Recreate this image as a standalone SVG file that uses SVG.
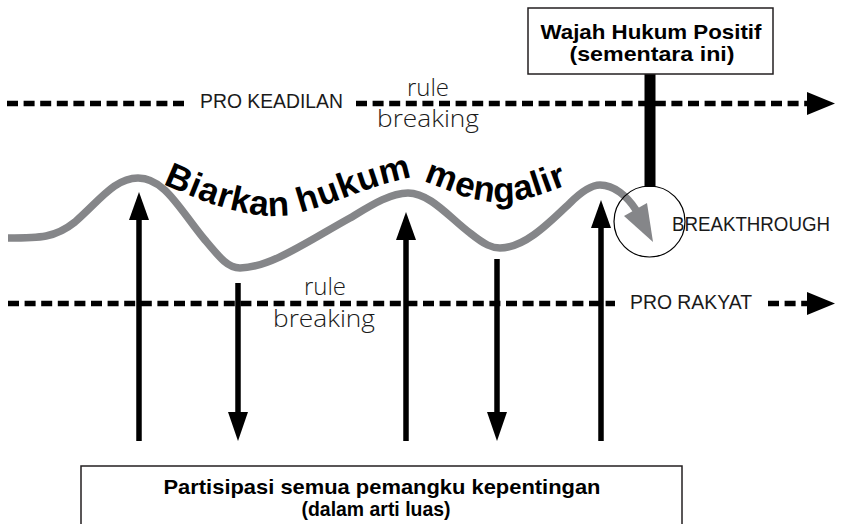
<svg xmlns="http://www.w3.org/2000/svg" width="843" height="524" viewBox="0 0 843 524">
  <defs>
    <style>
      .dash { fill: none; stroke: #000; stroke-width: 5.5; stroke-dasharray: 11 5.6; }
      .arrow { fill: none; stroke: #000; stroke-width: 5.5; }
      .head { fill: #000; }
      .box { fill: #fff; stroke: #231f20; stroke-width: 1.5; }
      .lbl { font-family: "Liberation Sans", Arial, sans-serif; font-size: 21px; fill: #1a1a1a; }
      .light { font-family: "Open Sans", "Liberation Sans", sans-serif; font-weight: 300; font-size: 24px; fill: #1a1a1a; text-anchor: middle; }
      .bold { font-family: "Liberation Sans", Arial, sans-serif; font-weight: bold; font-size: 21px; fill: #000; text-anchor: middle; }
      .title { font-family: "Liberation Sans", Arial, sans-serif; font-weight: bold; font-size: 35px; fill: #000; letter-spacing: 0.6px; }
    </style>
    <path id="titlePath" d="M 163,184 C 195,198 235,216 275,216 C 310,216 350,192 400,180 C 420,177 440,188 460,195 C 480,202 500,204 520,200 C 540,196 555,189 575,182"/>
  </defs>

  <!-- dashed axis lines -->
  <g id="axis-lines">
    <line class="dash" x1="7" y1="103.5" x2="186" y2="103.5"/>
    <line class="dash" x1="356" y1="103.5" x2="807" y2="103.5"/>
    <polygon class="head" points="807,92 835,103.5 807,115"/>
    <line class="dash" x1="8" y1="303.5" x2="615" y2="303.5"/>
    <line class="dash" x1="768" y1="303.5" x2="807" y2="303.5"/>
    <polygon class="head" points="807,292 835,303.5 807,315"/>
  </g>

  <g id="label-pro-keadilan">
    <text class="lbl" x="200" y="108" textLength="143" lengthAdjust="spacingAndGlyphs">PRO KEADILAN</text>
  </g>
  <g id="label-pro-rakyat">
    <text class="lbl" x="630" y="309" textLength="122" lengthAdjust="spacingAndGlyphs">PRO RAKYAT</text>
  </g>

  <g id="rule-breaking-top">
    <text class="light" x="428" y="96">rule</text>
    <text class="light" x="428" y="127" textLength="102" lengthAdjust="spacingAndGlyphs">breaking</text>
  </g>
  <g id="rule-breaking-bottom">
    <text class="light" x="325" y="295">rule</text>
    <text class="light" x="324" y="327" textLength="102" lengthAdjust="spacingAndGlyphs">breaking</text>
  </g>

  <!-- connectors: participation arrows -->
  <g id="connectors">
    <line class="arrow" x1="139" y1="441" x2="139" y2="218"/>
    <polygon class="head" points="139,192 149,220 129,220"/>
    <line class="arrow" x1="406" y1="441" x2="406" y2="238"/>
    <polygon class="head" points="406,212 416,240 396,240"/>
    <line class="arrow" x1="601" y1="441" x2="601" y2="226"/>
    <polygon class="head" points="601,200 611,228 591,228"/>
    <line class="arrow" x1="238" y1="283" x2="238" y2="414"/>
    <polygon class="head" points="238,441 248,412 228,412"/>
    <line class="arrow" x1="497" y1="259" x2="497" y2="414"/>
    <polygon class="head" points="497,441 507,412 487,412"/>
    <line x1="650" y1="74" x2="650" y2="187" stroke="#000" stroke-width="11"/>
  </g>

  <!-- flowing law wave -->
  <g id="wave">
    <path d="M 8,238 C 40,238 55,238 75,222 C 100,200 115,178 138,178 C 165,178 180,210 205,240 C 220,258 228,268 240,268 C 270,268 310,240 350,218 C 370,206 390,193 408,193 C 430,193 450,218 470,233 C 485,245 492,248 500,248 C 525,248 550,222 570,203 C 580,193 590,185 600,185 C 614,185 627,196 636,210" fill="none" stroke="#858689" stroke-width="7.5" stroke-linecap="butt"/>
    <polygon points="624,216 647,203 653,242" fill="#858689"/>
  </g>

  <g id="wave-title">
    <text class="title"><textPath href="#titlePath">Biarkan hukum mengalir</textPath></text>
  </g>

  <g id="breakthrough">
    <circle cx="649.5" cy="221.5" r="35.5" fill="none" stroke="#000" stroke-width="1.2"/>
    <text class="lbl" x="672" y="231" font-size="19" textLength="158" lengthAdjust="spacingAndGlyphs">BREAKTHROUGH</text>
  </g>

  <g id="box-wajah">
    <rect class="box" x="528" y="8" width="245" height="66"/>
    <text class="bold" x="651" y="39" textLength="221" lengthAdjust="spacingAndGlyphs">Wajah Hukum Positif</text>
    <text class="bold" x="652" y="61" textLength="165" lengthAdjust="spacingAndGlyphs">(sementara ini)</text>
  </g>

  <g id="box-partisipasi">
    <rect class="box" x="81" y="466" width="601" height="70"/>
    <text class="bold" x="382" y="494" font-size="22" textLength="437" lengthAdjust="spacingAndGlyphs">Partisipasi semua pemangku kepentingan</text>
    <text class="bold" x="376" y="516" font-size="22" textLength="149" lengthAdjust="spacingAndGlyphs">(dalam arti luas)</text>
  </g>
</svg>
